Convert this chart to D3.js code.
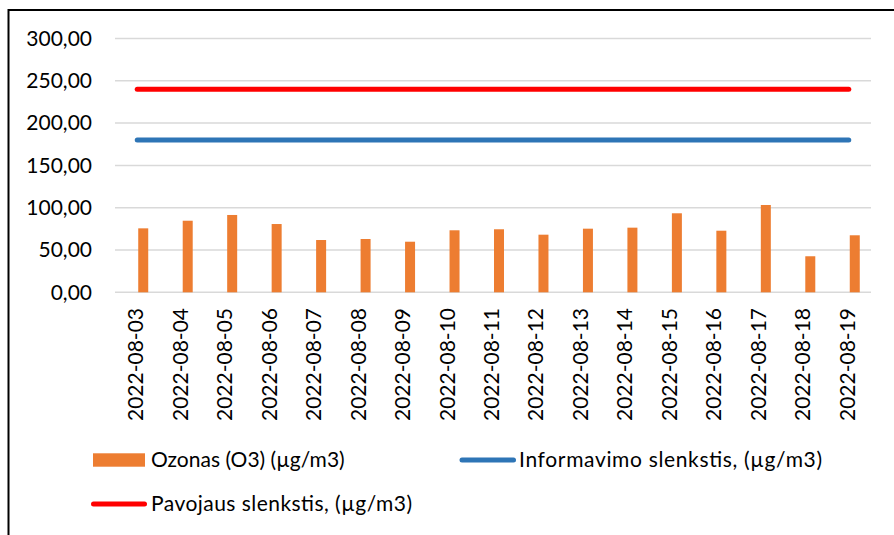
<!DOCTYPE html>
<html><head><meta charset="utf-8">
<script src="https://cdn.jsdelivr.net/npm/d3@7"></script>
<style>
html,body{margin:0;padding:0;background:#fff;}
svg{display:block;font-family:Lato, "Open Sans", sans-serif;}
</style></head>
<body>
<svg id="chart" width="894" height="535"></svg>
<script>
const categories = ["2022-08-03","2022-08-04","2022-08-05","2022-08-06","2022-08-07","2022-08-08","2022-08-09","2022-08-10","2022-08-11","2022-08-12","2022-08-13","2022-08-14","2022-08-15","2022-08-16","2022-08-17","2022-08-18","2022-08-19"];
const ozonas = [75.6,84.6,91.4,80.7,61.8,63.0,59.8,73.3,74.5,68.1,75.2,76.4,93.4,72.8,103.2,42.6,67.4];
const informavimo = categories.map(() => 180);
const pavojaus = categories.map(() => 240);
const yTicks = [0,50,100,150,200,250,300];
const seriesNames = ["Ozonas (O3) (µg/m3)","Informavimo slenkstis, (µg/m3)","Pavojaus slenkstis, (µg/m3)"];

const svg = d3.select("#chart");
const M = {left:115, right:871, top:38.5, bottom:292.3};
const fs = 21;

// border
svg.append("path").attr("d","M8.5,540 V10 H900").attr("fill","none").attr("stroke","#000").attr("stroke-width",2);

const x = d3.scaleBand().domain(categories).range([M.left, M.right]).padding(0);
const y = d3.scaleLinear().domain([0,300]).range([M.bottom, M.top]);
const fmt = v => d3.format(".2f")(v).replace(".", ",");

// gridlines
svg.append("g").selectAll("line").data(yTicks).join("line")
  .attr("x1",M.left).attr("x2",M.right)
  .attr("y1",d=>y(d)).attr("y2",d=>y(d))
  .attr("stroke","#d9d9d9").attr("stroke-width",1.5);

// y labels
svg.append("g").selectAll("text").data(yTicks).join("text")
  .attr("x",92).attr("y",d=>y(d)).attr("dy","0.35em")
  .attr("text-anchor","end").attr("font-size",fs).attr("fill","#000")
  .text(fmt);

// bars
const barW = 10, barOff = 6;
svg.append("g").selectAll("rect").data(ozonas).join("rect")
  .attr("x",(d,i)=>x(categories[i]) + x.bandwidth()/2 + barOff - barW/2)
  .attr("width",barW)
  .attr("y",d=>y(d)).attr("height",d=>y(0)-y(d))
  .attr("fill","#ED7D31");

// lines
const line = d3.line().x((d,i)=>x(categories[i]) + x.bandwidth()/2).y(d=>y(d));
svg.append("path").datum(informavimo).attr("d",line).attr("fill","none")
  .attr("stroke","#2E75B6").attr("stroke-width",5).attr("stroke-linecap","round");
svg.append("path").datum(pavojaus).attr("d",line).attr("fill","none")
  .attr("stroke","#FF0000").attr("stroke-width",5).attr("stroke-linecap","round");

// x labels
svg.append("g").selectAll("text").data(categories).join("text")
  .attr("transform",d=>`translate(${x(d)+x.bandwidth()/2 + 6},308) rotate(-90)`)
  .attr("text-anchor","end").attr("font-size",fs).attr("fill","#000")
  .text(d=>d);

// legend
const lg = svg.append("g").attr("font-size",fs).attr("fill","#000");
lg.append("rect").attr("x",93).attr("y",453.3).attr("width",52).attr("height",13.4).attr("fill","#ED7D31");
lg.append("text").attr("x",151).attr("y",460).attr("dy","0.35em").text(seriesNames[0]);
lg.append("line").attr("x1",462).attr("x2",513.5).attr("y1",460).attr("y2",460)
  .attr("stroke","#2E75B6").attr("stroke-width",5).attr("stroke-linecap","round");
lg.append("text").attr("x",519).attr("y",460).attr("dy","0.35em")
  .attr("textLength",303).attr("lengthAdjust","spacing").text(seriesNames[1]);
lg.append("line").attr("x1",93.5).attr("x2",144.5).attr("y1",504).attr("y2",504)
  .attr("stroke","#FF0000").attr("stroke-width",5).attr("stroke-linecap","round");
lg.append("text").attr("x",151).attr("y",504).attr("dy","0.35em")
  .attr("textLength",261).attr("lengthAdjust","spacing").text(seriesNames[2]);
</script>
</body></html>
